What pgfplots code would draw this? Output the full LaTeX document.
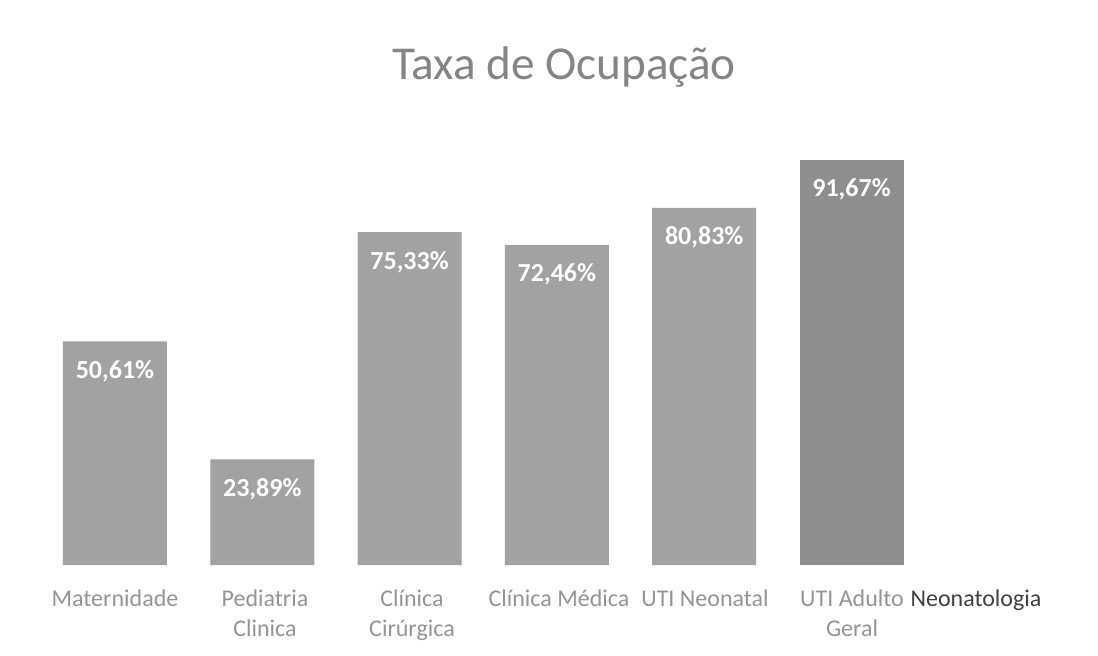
\documentclass[border=0pt]{standalone}
\usepackage{pgfplots}
\pgfplotsset{compat=1.18}
\usepackage{fontspec}
\setmainfont{Carlito}
\definecolor{barg}{HTML}{A2A2A2}
\definecolor{bard}{HTML}{8E8E8E}
\definecolor{lbl}{HTML}{959595}
\definecolor{ttl}{HTML}{858585}
\begin{document}
\begin{tikzpicture}[x=1pt,y=1pt]
\useasboundingbox (0,0) rectangle (549,327.5);
\node[text=ttl,font=\fontsize{23.6}{26}\selectfont] at (282,294) {Taxa de Ocupação};
\begin{axis}[
  at={(25pt,45pt)}, anchor=south west,
  scale only axis, width=510pt, height=207.5pt,
  xmin=-0.441, xmax=6.483, ymin=0, ymax=93.9,
  axis lines=none,
  ybar, bar width=0.706, bar shift=0pt,
  xtick=\empty, ytick=\empty,
  clip=false,
  nodes near coords={\pgfmathprintnumber[fixed,precision=2,fixed zerofill,use comma]{\pgfplotspointmeta}\%},
  /pgf/number format/assume math mode=true,
  nodes near coords style={text=white,font=\bfseries\fontsize{13}{15}\selectfont,anchor=north,yshift=-6pt},
]
\addplot[fill=barg,draw=none] coordinates {(0,50.61) (1,23.89) (2,75.33) (3,72.46) (4,80.83)};
\addplot[fill=bard,draw=none] coordinates {(5,91.67)};
\end{axis}
\begin{scope}[every node/.style={anchor=north,align=center,text=lbl,font=\fontsize{12}{15}\selectfont}]
\node at (57.5,36) {Maternidade};
\node at (132.5,36) {Pediatria\\Clinica};
\node at (206,36) {Clínica\\Cirúrgica};
\node at (279.5,36) {Clínica Médica};
\node at (352.5,36) {UTI Neonatal};
\node at (426,36) {UTI Adulto\\Geral};
\node[text=black!75] at (488,36) {Neonatologia};
\end{scope}
\end{tikzpicture}
\end{document}
